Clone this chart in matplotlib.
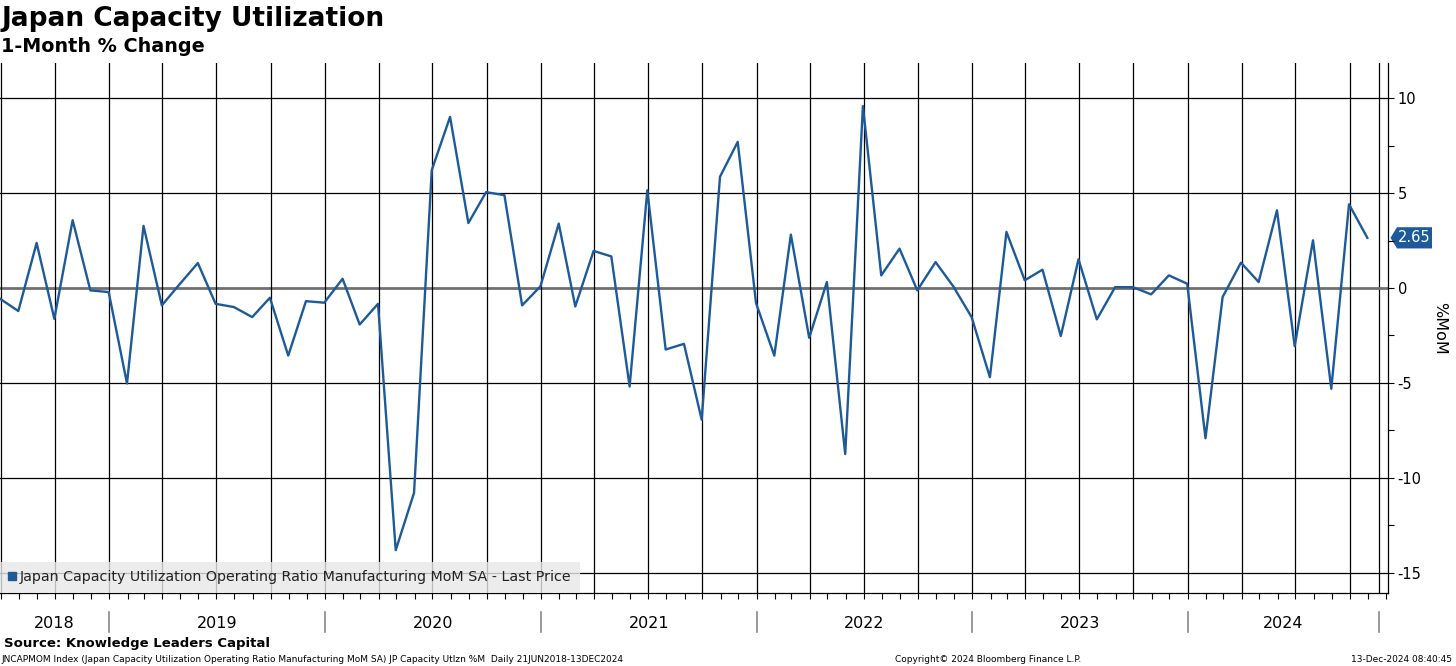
import numpy as np
import pandas as pd
import matplotlib
matplotlib.use('Agg')
import matplotlib.pyplot as plt
import matplotlib.dates as mdates
from matplotlib.lines import Line2D
from matplotlib.patches import Polygon
from matplotlib.ticker import MultipleLocator, FuncFormatter

plt.rcParams['font.family'] = ['DejaVu Sans']
plt.rcParams['axes.unicode_minus'] = False

# monthly % change, Jun 2018 .. Oct 2024
values = [
    -0.56, -1.21, 2.38, -1.62, 3.58, -0.12, -0.21,                               # 2018 Jun-Dec
    -5.03, 3.28, -0.91, 0.20, 1.32, -0.83, -1.00, -1.53, -0.51, -3.56, -0.69, -0.77,  # 2019
    0.49, -1.92, -0.83, -13.82, -10.80, 6.22, 9.03, 3.43, 5.06, 4.90, -0.91, 0.09,    # 2020
    3.40, -0.97, 1.96, 1.67, -5.19, 5.16, -3.24, -2.94, -6.94, 5.87, 7.71, -0.79,     # 2021
    -3.56, 2.82, -2.62, 0.32, -8.75, 9.60, 0.67, 2.08, -0.12, 1.37, 0.09, -1.53,      # 2022
    -4.70, 2.96, 0.41, 0.97, -2.53, 1.52, -1.65, 0.05, 0.05, -0.33, 0.67, 0.23,       # 2023
    -7.92, -0.47, 1.34, 0.32, 4.10, -3.06, 2.52, -5.31, 4.42, 2.65,                   # 2024 Jan-Oct
]
dates = pd.date_range('2018-06-30', periods=len(values), freq='ME')
years = [2018, 2019, 2020, 2021, 2022, 2023, 2024]
last_value = values[-1]

legend_label = 'Japan Capacity Utilization Operating Ratio Manufacturing MoM SA - Last Price'
footer_left = ('JNCAPMOM Index (Japan Capacity Utilization Operating Ratio Manufacturing MoM SA) '
               'JP Capacity Utlzn %M  Daily 21JUN2018-13DEC2024')
footer_mid = 'Copyright\u00a9 2024 Bloomberg Finance L.P.'
footer_right = '13-Dec-2024 08:40:45'

blue = '#1c5a99'
x_start = pd.Timestamp('2018-06-30')
x_end = pd.Timestamp('2024-12-05')
band_end = pd.Timestamp('2024-11-20')

fig = plt.figure(figsize=(14.56, 6.66), dpi=100)
ax = fig.add_axes([0.0, 0.1096, 0.9533, 0.7958])
ax.set_xlim(x_start, x_end)
ax.set_ylim(-16.08, 11.87)

ax.plot(dates, values, color=blue, lw=1.7, zorder=4)

# grid
for yv in [-15, -10, -5, 5, 10]:
    ax.axhline(yv, color='black', lw=0.9, zorder=1)
ax.axhline(0, color='#707070', lw=2.0, zorder=1.5)
ax.xaxis.set_major_locator(mdates.MonthLocator(bymonth=[1, 4, 7, 10]))
ax.xaxis.set_minor_locator(mdates.MonthLocator())
ax.xaxis.set_major_formatter(FuncFormatter(lambda v, p: ''))
ax.grid(axis='x', which='major', color='black', lw=0.9, zorder=1)
ax.axvline(band_end, color='black', lw=0.9, zorder=1)
ax.tick_params(axis='x', which='both', direction='out', length=4, color='black', width=0.8)

ax.yaxis.tick_right()
ax.yaxis.set_label_position('right')
ax.yaxis.set_major_locator(MultipleLocator(5))
ax.yaxis.set_minor_locator(MultipleLocator(2.5))
ax.yaxis.set_major_formatter(FuncFormatter(lambda v, p: f'{v:g}'))
ax.tick_params(axis='y', which='both', direction='out', length=4, width=0.8, pad=3, labelsize=10.5)

for s in ['top', 'left']:
    ax.spines[s].set_visible(False)
for s in ['right', 'bottom']:
    ax.spines[s].set_linewidth(0.9)

# year bands under the axis
tr = ax.get_xaxis_transform()
edges = [x_start] + [pd.Timestamp(f'{y + 1}-01-01') for y in years[:-1]] + [band_end]
for e in edges[1:]:
    ax.plot([e, e], [-0.036, -0.074], transform=tr, color='#888888', lw=1.2, clip_on=False)
for i, y in enumerate(years):
    mid = edges[i] + (edges[i + 1] - edges[i]) / 2
    ax.text(mid, -0.057, str(y), transform=tr, ha='center', va='center', fontsize=11.5)

# legend
handle = Line2D([], [], marker='s', ls='none', color=blue, markersize=6)
leg = ax.legend([handle], [legend_label], loc='lower left', bbox_to_anchor=(0, 0),
                borderaxespad=0, fancybox=False, facecolor='#e8e8e8', edgecolor='none',
                framealpha=0.8, fontsize=10.3, handlelength=0.5, handletextpad=0.3,
                borderpad=0.6)
leg.set_zorder(3)
for t in leg.get_texts():
    t.set_color('#222222')

# last value tag
yt = ax.get_yaxis_transform()
h = 0.56
tag = Polygon([(1.0018, last_value), (1.0065, last_value + h), (1.0317, last_value + h),
               (1.0317, last_value - h), (1.0065, last_value - h)],
              closed=True, transform=yt, facecolor=blue, edgecolor='none', clip_on=False)
ax.add_patch(tag)
ax.text(1.019, last_value, f'{last_value:.2f}', transform=yt, ha='center', va='center',
        color='white', fontsize=10.5)

fig.text(0.989, 0.5075, '%MoM', rotation=270, ha='center', va='center', fontsize=11.5)

fig.text(0.001, 0.972, 'Japan Capacity Utilization', fontsize=19, fontweight='bold', va='center')
fig.text(0.001, 0.930, '1-Month % Change', fontsize=13.8, fontweight='bold', va='center')
fig.text(0.003, 0.0345, 'Source: Knowledge Leaders Capital', fontsize=9.5, fontweight='bold', va='center')
fig.text(0.001, 0.0105, footer_left, fontsize=6.5, va='center')
fig.text(0.679, 0.0105, footer_mid, fontsize=6.5, va='center', ha='center')
fig.text(0.997, 0.0105, footer_right, fontsize=6.5, va='center', ha='right')

fig.savefig('out.png', dpi=100)
